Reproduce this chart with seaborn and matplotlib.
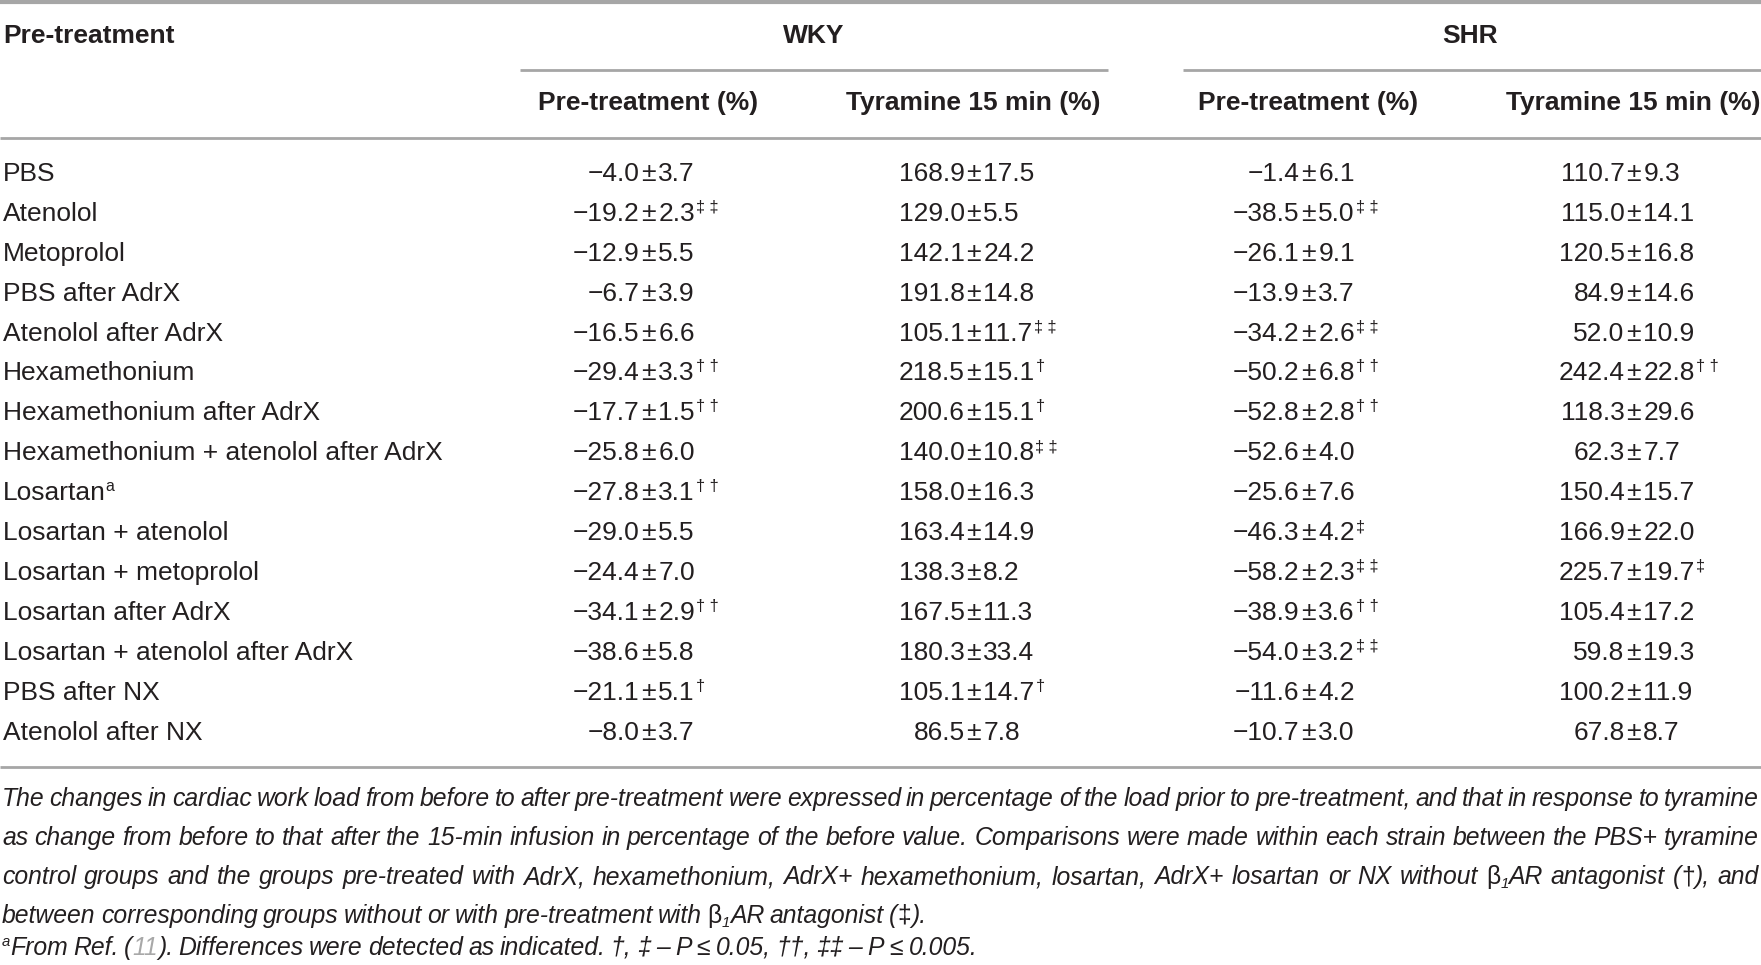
import re
import numpy as np
import pandas as pd
import matplotlib
matplotlib.use("Agg")
import matplotlib.pyplot as plt
import seaborn as sns
from matplotlib import font_manager

treatments = ["PBS", "Atenolol", "Metoprolol", "PBS after AdrX", "Atenolol after AdrX",
              "Hexamethonium", "Hexamethonium after AdrX",
              "Hexamethonium + atenolol after AdrX", "Losartan", "Losartan + atenolol",
              "Losartan + metoprolol", "Losartan after AdrX",
              "Losartan + atenolol after AdrX", "PBS after NX", "Atenolol after NX"]
treatment_notes = ["", "", "", "", "", "", "", "", "a", "", "", "", "", "", ""]

wky_pre_mean = [-4.0, -19.2, -12.9, -6.7, -16.5, -29.4, -17.7, -25.8, -27.8, -29.0, -24.4, -34.1, -38.6, -21.1, -8.0]
wky_pre_sem = [3.7, 2.3, 5.5, 3.9, 6.6, 3.3, 1.5, 6.0, 3.1, 5.5, 7.0, 2.9, 5.8, 5.1, 3.7]
wky_pre_sig = ["", "‡‡", "", "", "", "††", "††", "", "††", "", "", "††", "", "†", ""]

wky_tyr_mean = [168.9, 129.0, 142.1, 191.8, 105.1, 218.5, 200.6, 140.0, 158.0, 163.4, 138.3, 167.5, 180.3, 105.1, 86.5]
wky_tyr_sem = [17.5, 5.5, 24.2, 14.8, 11.7, 15.1, 15.1, 10.8, 16.3, 14.9, 8.2, 11.3, 33.4, 14.7, 7.8]
wky_tyr_sig = ["", "", "", "", "‡‡", "†", "†", "‡‡", "", "", "", "", "", "†", ""]

shr_pre_mean = [-1.4, -38.5, -26.1, -13.9, -34.2, -50.2, -52.8, -52.6, -25.6, -46.3, -58.2, -38.9, -54.0, -11.6, -10.7]
shr_pre_sem = [6.1, 5.0, 9.1, 3.7, 2.6, 6.8, 2.8, 4.0, 7.6, 4.2, 2.3, 3.6, 3.2, 4.2, 3.0]
shr_pre_sig = ["", "‡‡", "", "", "‡‡", "††", "††", "", "", "‡", "‡‡", "††", "‡‡", "", ""]

shr_tyr_mean = [110.7, 115.0, 120.5, 84.9, 52.0, 242.4, 118.3, 62.3, 150.4, 166.9, 225.7, 105.4, 59.8, 100.2, 67.8]
shr_tyr_sem = [9.3, 14.1, 16.8, 14.6, 10.9, 22.8, 29.6, 7.7, 15.7, 22.0, 19.7, 17.2, 19.3, 11.9, 8.7]
shr_tyr_sig = ["", "", "", "", "", "††", "", "", "", "", "‡", "", "", "", ""]

strains = ["WKY", "SHR"]
sub_headers = ["Pre-treatment (%)", "Tyramine 15 min (%)"]
corner_header = "Pre-treatment"

# footnote: {g:..} grey link text, {sub:..} subscript, {sup:..} superscript, {up:..} upright
footnote_lines = [
    "The changes in cardiac work load from before to after pre-treatment were expressed in percentage of the load prior to pre-treatment, and that in response to tyramine",
    "as change from before to that after the 15-min infusion in percentage of the before value. Comparisons were made within each strain between the PBS+ tyramine",
    "control groups and the groups pre-treated with AdrX, hexamethonium, AdrX+ hexamethonium, losartan, AdrX+ losartan or NX without {up:β}{sub:1}AR antagonist ({up:†}), and",
    "between corresponding groups without or with pre-treatment with {up:β}{sub:1}AR antagonist ({up:‡}).",
    "{sup:a}From Ref. ({g:11}). Differences were detected as indicated. †, ‡ – P ≤ 0.05, ††, ‡‡ – P ≤ 0.005.",
]
footnote_justify = [True, True, True, False, False]

cells = pd.DataFrame({
    "treatment": treatments,
    "wky_pre": list(zip(wky_pre_mean, wky_pre_sem, wky_pre_sig)),
    "wky_tyr": list(zip(wky_tyr_mean, wky_tyr_sem, wky_tyr_sig)),
    "shr_pre": list(zip(shr_pre_mean, shr_pre_sem, shr_pre_sig)),
    "shr_tyr": list(zip(shr_tyr_mean, shr_tyr_sem, shr_tyr_sig)),
})
value_cols = ["wky_pre", "wky_tyr", "shr_pre", "shr_tyr"]

# ---------------- style ----------------
sns.set_theme(style="white")
names = {f.name for f in font_manager.fontManager.ttflist}
base_font = "Liberation Sans Narrow" if "Liberation Sans Narrow" in names else "Liberation Sans"
plt.rcParams["font.family"] = [base_font, "DejaVu Sans"]

INK = "#231f20"
RULE = "#a6a6a6"
FS = 19
W, H = 1761, 965

fig = plt.figure(figsize=(W / 100, H / 100), dpi=100)
ax = fig.add_axes([0, 0, 1, 1])
ax.set_xlim(0, W)
ax.set_ylim(H, 0)
ax.axis("off")
renderer = fig.canvas.get_renderer()


def width(t):
    return t.get_window_extent(renderer).width


# layout
label_x = 3
pm_x = [648, 973, 1308, 1633]
strain_x = [814, 1470]
strain_rule = [(520, 1108), (1183, W)]
row_y0, row_step = 181, 39.9

# rules
ax.hlines(2, 0, W, color=RULE, lw=3)
for x0, x1 in strain_rule:
    ax.hlines(70, x0, x1, color=RULE, lw=2)
ax.hlines(138, 0, W, color=RULE, lw=2)
ax.hlines(767, 0, W, color=RULE, lw=2)

# headers
ax.text(label_x, 43, corner_header, fontsize=FS, fontweight="bold", color=INK, va="baseline")
for sx, name in zip(strain_x, strains):
    ax.text(sx, 43, name, fontsize=FS, fontweight="bold", color=INK, ha="center", va="baseline")
for k, px in enumerate(pm_x):
    ax.text(px, 110, sub_headers[k % 2], fontsize=FS, fontweight="bold", color=INK,
            ha="center", va="baseline")

# body
for i, row in cells.iterrows():
    y = row_y0 + i * row_step
    t = ax.text(label_x, y, row["treatment"], fontsize=FS, color=INK, va="baseline")
    if treatment_notes[i]:
        ax.text(label_x + width(t) - 1, y - 9, treatment_notes[i], fontsize=FS * 0.6,
                color=INK, va="baseline")
    for px, col in zip(pm_x, value_cols):
        mean, sem, sig = row[col]
        left = ("\u2212" if mean < 0 else "") + f"{abs(mean):.1f}"
        t_pm = ax.text(px, y, "±", fontsize=FS, color=INK, ha="center", va="baseline")
        half = width(t_pm) / 2
        ax.text(px - half - 1, y, left, fontsize=FS, color=INK, ha="right", va="baseline")
        t_r = ax.text(px + half + 3, y, f"{sem:.1f}", fontsize=FS, color=INK, ha="left",
                      va="baseline")
        if sig:
            ax.text(px + half + 3 + width(t_r) + 1, y - 9, " ".join(sig) if len(sig) > 1 else sig,
                    fontsize=FS * 0.62, color=INK, ha="left", va="baseline")

# footnotes (justified like the journal layout)
seg_re = re.compile(r"\{(\w+):([^}]*)\}")
foot_y = [806, 845, 884, 923, 955]
FFS = 17.8


def segments(word):
    out, pos = [], 0
    for m in seg_re.finditer(word):
        if m.start() > pos:
            out.append(("plain", word[pos:m.start()]))
        out.append((m.group(1), m.group(2)))
        pos = m.end()
    if pos < len(word):
        out.append(("plain", word[pos:]))
    return out


for line, just, y in zip(footnote_lines, footnote_justify, foot_y):
    tokens = []
    for word in line.split(" "):
        segs = []
        for kind, txt in segments(word):
            kw = dict(fontsize=FFS, color=INK, va="baseline", ha="left", fontstyle="italic")
            dy = 0
            if kind == "g":
                kw["color"] = "#a8a8a8"
            elif kind == "sub":
                kw["fontsize"] = FFS * 0.6
                dy = 4
            elif kind == "sup":
                kw["fontsize"] = FFS * 0.6
                dy = -9
            elif kind == "up":
                kw["fontstyle"] = "normal"
            t = ax.text(0, y + dy, txt, **kw)
            segs.append((t, width(t)))
        tokens.append(segs)
    tok_w = [sum(w for _, w in s) for s in tokens]
    if just:
        gap = (W - 4 - sum(tok_w)) / (len(tokens) - 1)
    else:
        gap = FFS * 0.3
    x = 2
    for segs, tw in zip(tokens, tok_w):
        xx = x
        for t, w in segs:
            t.set_x(xx)
            xx += w
        x += tw + gap

fig.savefig("out.png", dpi=100)
